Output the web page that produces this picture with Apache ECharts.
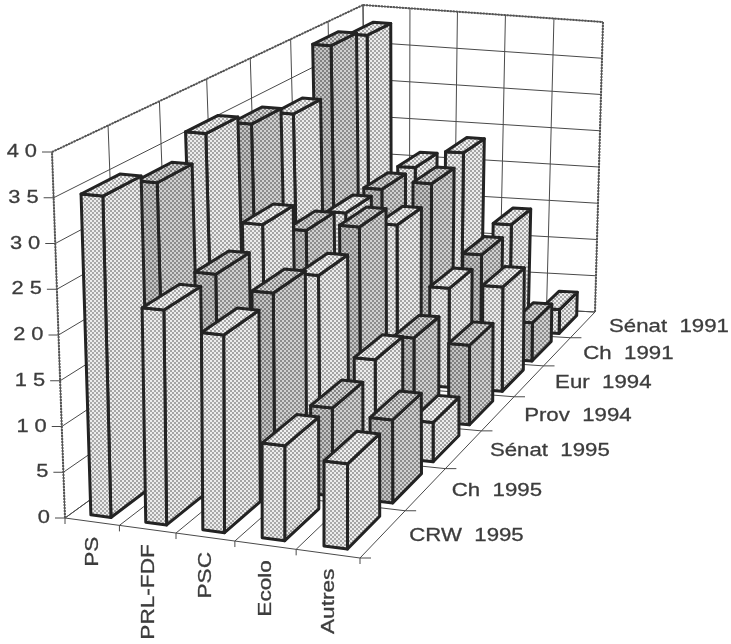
<!DOCTYPE html>
<html>
<head>
<meta charset="utf-8">
<script src="https://cdn.jsdelivr.net/npm/echarts@6/dist/echarts.min.js"></script>
<style>html,body{margin:0;padding:0;background:#fff}#chart{width:731px;height:644px}</style>
</head>
<body>
<div id="chart"></div>
<script>
var parties = ['PS', 'PRL-FDF', 'PSC', 'Ecolo', 'Autres'];
var elections = ['CRW  1995', 'Ch  1995', 'Sénat  1995', 'Prov  1994', 'Eur  1994', 'Ch  1991', 'Sénat  1991'];
var valueTicks = [0, 5, 10, 15, 20, 25, 30, 35, 40];
var crw1995 = [35.2, 23.4, 21.4, 10.2, 9.1];
var ch1995 = [33.5, 23.7, 22.2, 9.9, 9.3];
var senat1995 = [36.2, 26, 20.6, 11.3, 4.6];
var prov1994 = [34.5, 22, 23, 10, 9.7];
var eur1994 = [33, 21, 20, 12.5, 13.2];
var ch1991 = [39.2, 21, 22.2, 13.4, 5];
var senat1991 = [38.2, 21, 23.4, 14.2, 3.2];
var rows = [crw1995, ch1995, senat1995, prov1994, eur1994, ch1991, senat1991];

// box corners in the picture, front-left / front-right / back-right / back-left
var floorQuad = [[65, 518], [360, 558], [595, 312], [366, 300]];
var topQuad = [[52, 152], [360, 180], [603, 22], [363, 5]];
var maxValue = 40;

function quadMap(q) {
  var dx1 = q[1][0] - q[2][0], dx2 = q[3][0] - q[2][0], sx = q[0][0] - q[1][0] + q[2][0] - q[3][0];
  var dy1 = q[1][1] - q[2][1], dy2 = q[3][1] - q[2][1], sy = q[0][1] - q[1][1] + q[2][1] - q[3][1];
  var d = dx1 * dy2 - dx2 * dy1;
  var g = (sx * dy2 - dx2 * sy) / d, h = (dx1 * sy - sx * dy1) / d;
  var a = q[1][0] - q[0][0] + g * q[1][0], b = q[3][0] - q[0][0] + h * q[3][0], c = q[0][0];
  var e = q[1][1] - q[0][1] + g * q[1][1], f = q[3][1] - q[0][1] + h * q[3][1], i = q[0][1];
  return function (u, v) {
    var w = g * u + h * v + 1;
    return [(a * u + b * v + c) / w, (e * u + f * v + i) / w];
  };
}
var floorMap = quadMap(floorQuad), topMap = quadMap(topQuad);

// col 0..5, row 0..7, val 0..40 -> picture point
function project(col, row, val) {
  var p = floorMap(col / parties.length, row / elections.length);
  var t = topMap(col / parties.length, row / elections.length);
  var k = val / maxValue;
  return [p[0] + (t[0] - p[0]) * k, p[1] + (t[1] - p[1]) * k];
}

function dots(base, dot) {
  var c = document.createElement('canvas');
  c.width = 4; c.height = 4;
  var g = c.getContext('2d');
  g.fillStyle = base; g.fillRect(0, 0, 4, 4);
  g.fillStyle = dot;
  g.fillRect(0, 0, 2, 2); g.fillRect(2, 2, 2, 2);
  return { image: c, repeat: 'repeat' };
}
var lightFill = { front: dots('#ececec', '#a8a8a8'), side: dots('#ececec', '#a4a4a4'), top: dots('#f0f0f0', '#a8a8a8') };
var darkFill = { front: dots('#c4c4c4', '#808080'), side: dots('#d0d0d0', '#8c8c8c'), top: dots('#d4d4d4', '#868686') };

var barW = [0.34, 0.71], barD = [0.13, 0.83];
var stroke = '#232323';

function barSeries(rowIdx) {
  return {
    type: 'custom',
    name: elections[rowIdx],
    z: 10 + (elections.length - rowIdx),
    data: rows[rowIdx].map(function (v, c) { return [c, rowIdx, v]; }),
    renderItem: function (params, api) {
      var c = api.value(0), r = api.value(1), v = api.value(2);
      var fill = r % 2 ? darkFill : lightFill;
      function pt(a, b, h) { return api.coord(project(c + a, r + b, h)); }
      var flb = pt(barW[0], barD[0], 0), frb = pt(barW[1], barD[0], 0), brb = pt(barW[1], barD[1], 0);
      var flt = pt(barW[0], barD[0], v), frt = pt(barW[1], barD[0], v), brt = pt(barW[1], barD[1], v), blt = pt(barW[0], barD[1], v);
      function face(points, f) {
        return { type: 'polygon', shape: { points: points }, style: { fill: f, stroke: stroke, lineWidth: 3, lineJoin: 'round' } };
      }
      return {
        type: 'group',
        children: [
          face([frb, brb, brt, frt], fill.side),
          face([flb, frb, frt, flt], fill.front),
          face([flt, frt, brt, blt], fill.top)
        ]
      };
    }
  };
}

function line(a, b, color, width, dash) {
  return {
    type: 'line',
    shape: { x1: a[0], y1: a[1], x2: b[0], y2: b[1] },
    style: { stroke: color, lineWidth: width, lineDash: dash || null }
  };
}

var frameSeries = {
  type: 'custom',
  z: 1,
  data: [[0, 0]],
  renderItem: function (params, api) {
    var nc = parties.length, nr = elections.length, kids = [], i;
    function pt(c, r, v) { return api.coord(project(c, r, v)); }
    var grid = '#4a4a4a';
    valueTicks.forEach(function (t) {
      kids.push(line(pt(0, 0, t), pt(0, nr, t), grid, 1));
      kids.push(line(pt(0, nr, t), pt(nc, nr, t), grid, 1));
      var a = pt(0, 0, t);
      kids.push(line([a[0] - 10, a[1]], a, grid, 1));
    });
    for (i = 0; i <= nr; i++) {
      kids.push(line(pt(0, i, 0), pt(0, i, maxValue), grid, 1));
      kids.push(line(pt(0, i, 0), pt(nc, i, 0), grid, 1));
      if (i < nr) {
        var a = pt(nc, i, 0);
        kids.push(line(a, [a[0] + 11, a[1]], grid, 1));
      }
    }
    for (i = 0; i <= nc; i++) {
      kids.push(line(pt(i, nr, 0), pt(i, nr, maxValue), grid, 1));
      kids.push(line(pt(i, 0, 0), pt(i, nr, 0), grid, 1));
      var b = pt(i, 0, 0);
      kids.push(line(b, [b[0], b[1] + 6], grid, 1));
    }
    // stippled outer edge of the walls
    var edge = '#555555';
    kids.push(line(pt(0, 0, 0), pt(0, 0, maxValue), edge, 2, [2, 1]));
    kids.push(line(pt(0, 0, maxValue), pt(0, nr, maxValue), edge, 2, [2, 1]));
    kids.push(line(pt(0, nr, maxValue), pt(nc, nr, maxValue), edge, 2, [2, 1]));
    kids.push(line(pt(nc, nr, maxValue), pt(nc, nr, 0), edge, 2, [2, 1]));
    return { type: 'group', children: kids };
  }
};

var labelFont = '19px "Liberation Sans", Arial, sans-serif';
var labelColor = '#3c3c3c';
function textEl(str, pos, align, rotation, sx) {
  return {
    type: 'text',
    x: pos[0], y: pos[1],
    rotation: rotation || 0,
    scaleX: sx || 1,
    style: { text: str, font: labelFont, fill: labelColor, stroke: labelColor, lineWidth: 0.3, textAlign: align, textVerticalAlign: 'middle' }
  };
}

var labelSeries = {
  type: 'custom',
  z: 30,
  data: [[0, 0]],
  renderItem: function (params, api) {
    var kids = [];
    valueTicks.forEach(function (t) {
      var p = api.coord(project(0, 0, t));
      kids.push(textEl(String(t).split('').join(' '), [p[0] - 15, p[1]], 'right', 0, 1.15));
    });
    parties.forEach(function (name, c) {
      var p = api.coord(project(c + 0.5, 0, 0));
      kids.push(textEl(name, [p[0] + 1, p[1] + 15], 'right', Math.PI / 2, 1.19));
    });
    elections.forEach(function (name, r) {
      var p = api.coord(project(parties.length, r + 0.5, 0));
      kids.push(textEl(name, [p[0] + 26, p[1] + 2], 'left', 0, 1.17));
    });
    return { type: 'group', children: kids };
  }
};

var myChart = echarts.init(document.getElementById('chart'), null, { renderer: 'canvas' });
var series = [frameSeries];
rows.forEach(function (r, i) { series.push(barSeries(i)); });
series.push(labelSeries);
myChart.setOption({
  animation: false,
  backgroundColor: '#ffffff',
  grid: { left: 0, right: 0, top: 0, bottom: 0 },
  xAxis: { type: 'value', min: 0, max: 731, show: false },
  yAxis: { type: 'value', min: 0, max: 644, inverse: true, show: false },
  series: series
});
</script>
</body>
</html>
